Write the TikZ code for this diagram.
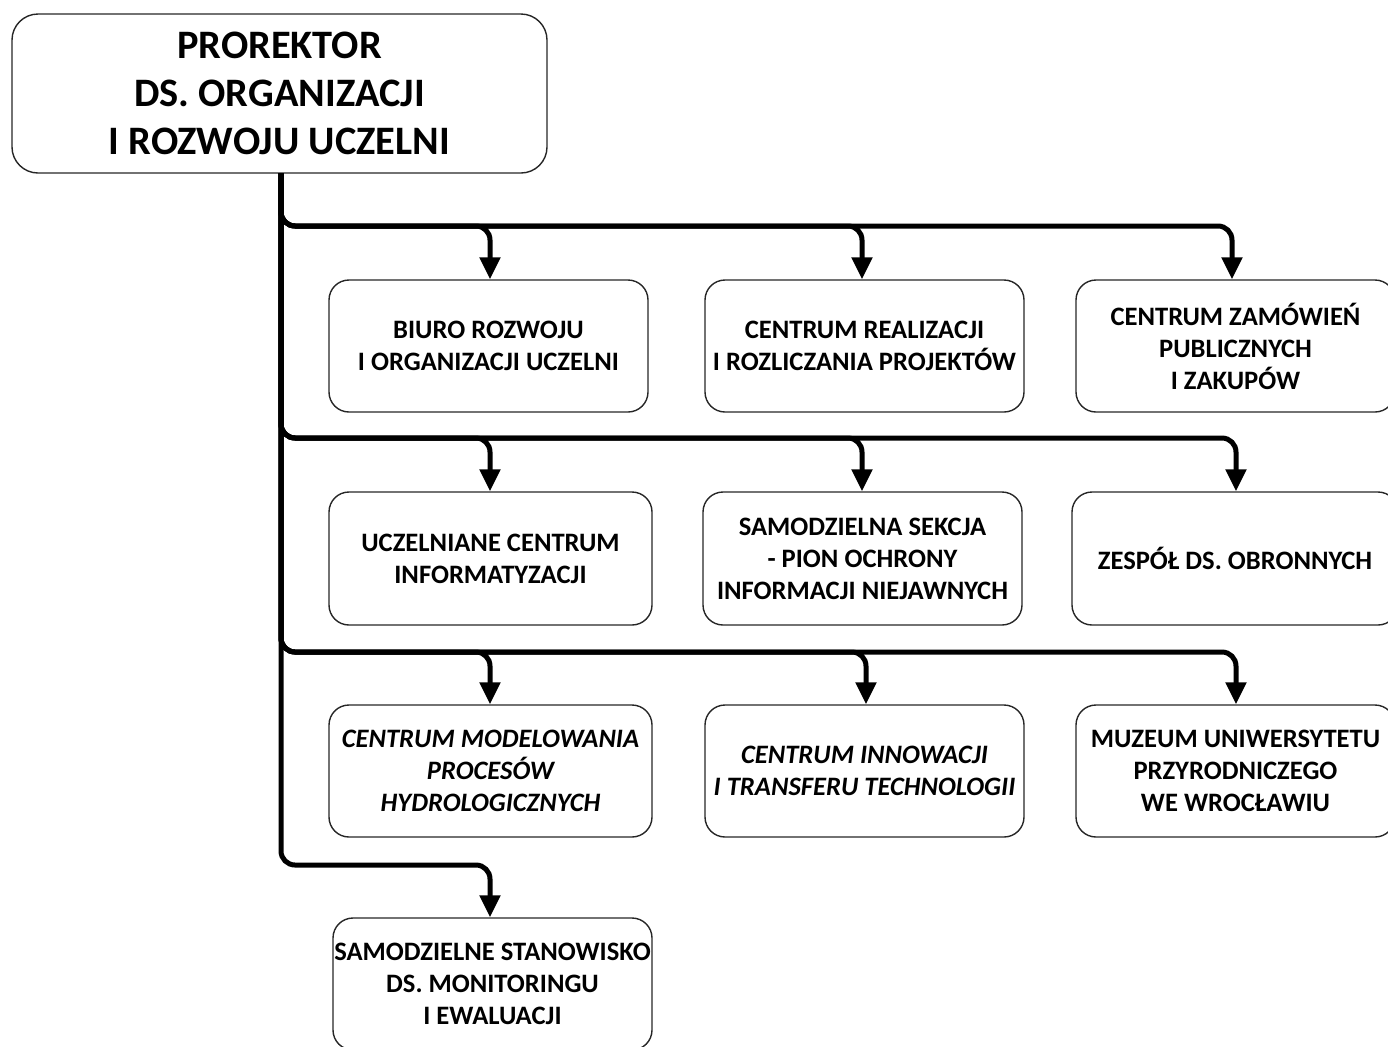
\documentclass[tikz,border=0pt]{standalone}
\usepackage{fontspec}
\setmainfont{Carlito}
\usetikzlibrary{arrows.meta}
\begin{document}
\begin{tikzpicture}[x=0.5pt,y=-0.5pt,
  unit/.style={draw=black!85, line width=0.7pt, rounded corners=10pt, align=center,
    font=\bfseries\fontsize{13.3}{16}\selectfont, minimum height=66pt, inner sep=0pt},
  headbox/.style={draw=black!85, line width=0.7pt, rounded corners=13pt, align=center,
    font=\bfseries\fontsize{20.2}{24}\selectfont, minimum width=267.5pt, minimum height=79.5pt},
  conn/.style={line width=2.5pt, rounded corners=7pt, -{Triangle[length=11pt,width=10pt]}}]
\useasboundingbox (0,0) rectangle (1388,1046);
\node[headbox] (top) at (279.5,93.5) {PROREKTOR\\DS. ORGANIZACJI\\I ROZWOJU UCZELNI};
% row 1
\node[unit, minimum width=159.5pt] (b11) at (488.5,346) {BIURO ROZWOJU\\I ORGANIZACJI UCZELNI};
\node[unit, minimum width=159.5pt] (b12) at (864.5,346) {CENTRUM REALIZACJI\\I ROZLICZANIA PROJEKTÓW};
\node[unit, minimum width=159.5pt] (b13) at (1235.5,346) {CENTRUM ZAMÓWIEŃ\\PUBLICZNYCH\\I ZAKUPÓW};
% row 2
\node[unit, minimum width=161.5pt, minimum height=66.5pt] (b21) at (490.5,558.5) {UCZELNIANE CENTRUM\\INFORMATYZACJI};
\node[unit, minimum width=159.5pt, minimum height=66.5pt] (b22) at (862.5,558.5) {SAMODZIELNA SEKCJA\\- PION OCHRONY\\INFORMACJI NIEJAWNYCH};
\node[unit, minimum width=163pt, minimum height=66.5pt] (b23) at (1235,558.5) {ZESPÓŁ DS. OBRONNYCH};
% row 3
\node[unit, minimum width=161.5pt, font=\bfseries\itshape\fontsize{13.3}{16}\selectfont] (b31) at (490.5,771) {CENTRUM MODELOWANIA\\PROCESÓW\\HYDROLOGICZNYCH};
\node[unit, minimum width=159.5pt, font=\bfseries\itshape\fontsize{13.3}{16}\selectfont] (b32) at (864.5,771) {CENTRUM INNOWACJI\\I TRANSFERU TECHNOLOGII};
\node[unit, minimum width=159.5pt] (b33) at (1235.5,771) {MUZEUM UNIWERSYTETU\\PRZYRODNICZEGO\\WE WROCŁAWIU};
% row 4
\node[unit, minimum width=159.5pt] (b41) at (492.5,984) {SAMODZIELNE STANOWISKO\\DS. MONITORINGU\\I EWALUACJI};
% connectors
\coordinate (t) at (281,173);
\draw[conn] (t) -- (281,226) -- (490,226) -- (b11.north -| 490,0);
\draw[conn] (t) -- (281,226) -- (862,226) -- (b12.north -| 862,0);
\draw[conn] (t) -- (281,226) -- (1232,226) -- (b13.north -| 1232,0);
\draw[conn] (t) -- (281,438) -- (490,438) -- (b21.north -| 490,0);
\draw[conn] (t) -- (281,438) -- (862,438) -- (b22.north -| 862,0);
\draw[conn] (t) -- (281,438) -- (1236,438) -- (b23.north -| 1236,0);
\draw[conn] (t) -- (281,652) -- (490,652) -- (b31.north -| 490,0);
\draw[conn] (t) -- (281,652) -- (866,652) -- (b32.north -| 866,0);
\draw[conn] (t) -- (281,652) -- (1236,652) -- (b33.north -| 1236,0);
\draw[conn] (t) -- (281,865) -- (490,865) -- (b41.north -| 490,0);
\end{tikzpicture}
\end{document}
